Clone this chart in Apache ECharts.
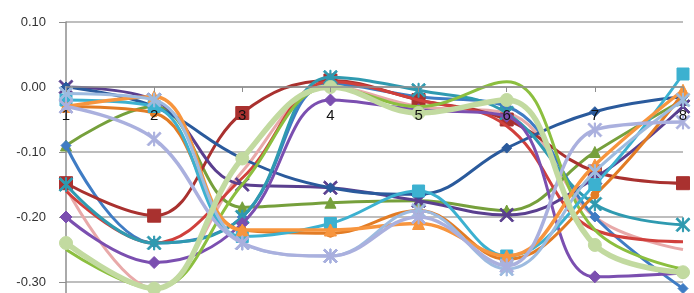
<!DOCTYPE html>
<html>
<head>
<meta charset="utf-8">
<script src="https://cdn.jsdelivr.net/npm/echarts@6/dist/echarts.min.js"></script>
<style>html,body{margin:0;padding:0;background:#fff}#c{width:694px;height:293px}</style>
</head>
<body>
<div id="c"></div>
<script>
const categories = ['1','2','3','4','5','6','7','8'];
const yTicks = [0.10, 0.00, -0.10, -0.20, -0.30];

const sPink      = [-0.155, -0.31, -0.13, 0.00, -0.03, -0.04, -0.20, -0.25];
const sOlive     = [-0.09, -0.03, -0.185, -0.178, -0.175, -0.19, -0.10, -0.02];
const sBlue      = [-0.09, -0.24, -0.20, 0.005, -0.015, -0.03, -0.20, -0.31];
const sDarkRed   = [-0.148, -0.198, -0.04, 0.01, -0.02, -0.05, -0.13, -0.148];
const sRed       = [-0.16, -0.24, -0.14, 0.008, -0.02, -0.06, -0.22, -0.238];
const sPurpleX   = [0.00, -0.02, -0.15, -0.155, -0.175, -0.197, -0.14, -0.03];
const sNavy      = [0.00, -0.03, -0.11, -0.155, -0.165, -0.094, -0.038, -0.015];
const sTeal      = [-0.15, -0.24, -0.20, 0.015, -0.005, -0.04, -0.18, -0.212];
const sPurpleD   = [-0.20, -0.27, -0.21, -0.02, -0.035, -0.045, -0.292, -0.286];
const sGreen     = [-0.25, -0.31, -0.15, 0.00, -0.03, 0.008, -0.22, -0.28];
const sOrange2   = [-0.03, -0.04, -0.22, -0.225, -0.19, -0.265, -0.166, -0.01];
const sAquaSq    = [-0.02, -0.03, -0.23, -0.21, -0.16, -0.26, -0.15, 0.02];
const sOrange    = [-0.03, -0.015, -0.22, -0.22, -0.21, -0.26, -0.12, -0.005];
const sLightBlue = [-0.01, -0.02, -0.24, -0.26, -0.19, -0.28, -0.13, -0.02];
const sLavender  = [-0.03, -0.08, -0.24, -0.26, -0.20, -0.275, -0.066, -0.054];
const sLightGrn  = [-0.24, -0.31, -0.11, 0.00, -0.04, -0.02, -0.243, -0.285];

const STAR = 'path://M0,1 L1,0 L5,4 L9,0 L10,1 L6,5 L10,9 L9,10 L5,6 L1,10 L0,9 L4,5 Z M4.6,0 L5.4,0 L5.4,10 L4.6,10 Z';
const XMARK = 'path://M0,1 L1,0 L5,4 L9,0 L10,1 L6,5 L10,9 L9,10 L5,6 L1,10 L0,9 L4,5 Z';

const seriesDefs = [
  [sPink, '#e8a9a9', 'none', 0, 3],
  [sOlive, '#76a03c', 'triangle', 11, 3],
  [sBlue, '#3f7cc4', 'diamond', 10, 3],
  [sDarkRed, '#a9312f', 'rect', 13, 3],
  [sRed, '#d0403c', 'none', 0, 3],
  [sPurpleX, '#5a3f8f', XMARK, 14, 3],
  [sNavy, '#2a5a9c', 'diamond', 10, 3],
  [sTeal, '#2f9ab0', STAR, 14, 3],
  [sPurpleD, '#7b4fb0', 'diamond', 12, 3],
  [sGreen, '#8cbf3f', 'none', 0, 3],
  [sOrange2, '#e27c25', 'circle', 8, 3],
  [sAquaSq, '#3cb1d0', 'rect', 12, 3],
  [sOrange, '#f7953e', 'triangle', 12, 3.5],
  [sLightBlue, '#9dbbe0', STAR, 14, 3],
  [sLavender, '#aab0de', STAR, 14, 3.5],
  [sLightGrn, '#c2daa0', 'circle', 13, 5.5]
];

const series = seriesDefs.map((d, i) => ({
  type: 'line',
  data: d[0],
  smooth: 0.4,
  symbol: d[2],
  symbolSize: d[3],
  showSymbol: d[2] !== 'none',
  lineStyle: { color: d[1], width: d[4] },
  itemStyle: { color: d[1], borderColor: d[1] },
  z: 2 + i * 0.01
}));

const chart = echarts.init(document.getElementById('c'), null, { renderer: 'canvas' });
chart.setOption({
  animation: false,
  backgroundColor: '#fff',
  grid: { left: 66, right: 11, top: 22, height: 325, containLabel: false, outerBoundsMode: 'none' },
  xAxis: {
    type: 'category',
    data: categories,
    boundaryGap: false,
    position: 'top',
    offset: -65,
    z: 10,
    axisLine: { onZero: false, lineStyle: { color: '#8e8e8e', width: 1.5 } },
    axisTick: { show: true, inside: true, length: 5, lineStyle: { color: '#8e8e8e' } },
    axisLabel: { inside: true, color: '#111', fontSize: 15, margin: 21, fontFamily: 'Liberation Sans' }
  },
  yAxis: {
    type: 'value',
    min: -0.4,
    max: 0.1,
    interval: 0.1,
    axisLine: { show: true, lineStyle: { color: '#8e8e8e', width: 1.5 } },
    axisTick: { show: true, length: 7, lineStyle: { color: '#8e8e8e' } },
    splitLine: { show: true, lineStyle: { color: '#a8a8a8', width: 1.5 } },
    axisLabel: {
      color: '#333', fontSize: 13, margin: 20, fontFamily: 'Liberation Sans',
      formatter: v => {
        const m = yTicks.find(t => Math.abs(t - v) < 1e-9);
        return m === undefined ? '' : m.toFixed(2);
      }
    }
  },
  series: series
});
</script>
</body>
</html>
